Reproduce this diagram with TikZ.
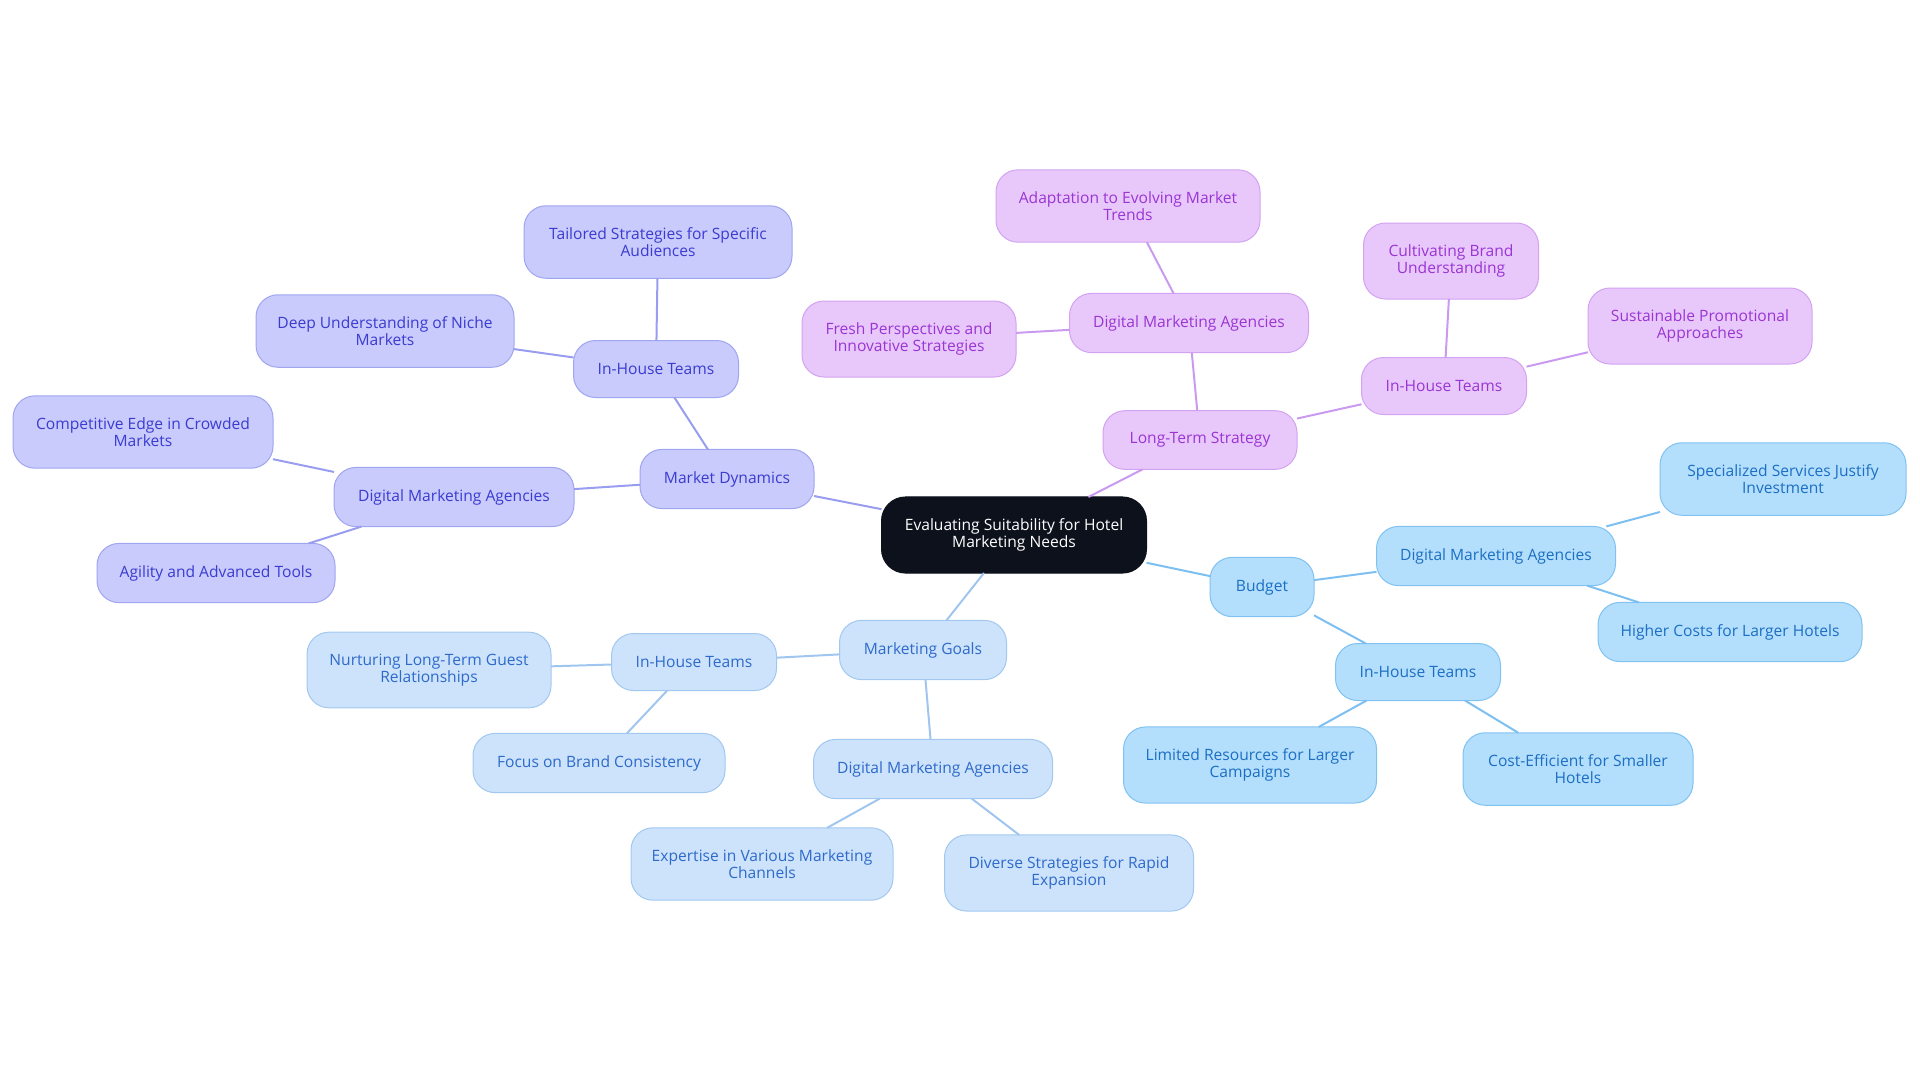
\documentclass[tikz,border=0pt]{standalone}
\usepackage{fontspec}
\setmainfont{Open Sans}
\usetikzlibrary{positioning}
\definecolor{rootfill}{HTML}{0C111B}
\definecolor{mdfill}{HTML}{C8CBFB}
\definecolor{mddraw}{HTML}{A0A5F0}
\definecolor{mdtext}{HTML}{3B3BD1}
\definecolor{mdedge}{HTML}{989DF0}
\definecolor{ltfill}{HTML}{E8C8FA}
\definecolor{ltdraw}{HTML}{D3A2F2}
\definecolor{lttext}{HTML}{9A35D4}
\definecolor{ltedge}{HTML}{C99AF0}
\definecolor{bgfill}{HTML}{B3DEFC}
\definecolor{bgdraw}{HTML}{80C2F2}
\definecolor{bgtext}{HTML}{1C6FC4}
\definecolor{bgedge}{HTML}{7CBFF0}
\definecolor{mgfill}{HTML}{CCE3FB}
\definecolor{mgdraw}{HTML}{A3C8F0}
\definecolor{mgtext}{HTML}{2E6ACB}
\definecolor{mgedge}{HTML}{A0C6F0}
\tikzset{
    %Define standard boxes
    idea/.style={
      rectangle,
      rounded corners=11pt,
      line width=0.5pt,
      outer sep=0pt,
      align=center,
      inner ysep=10.9pt,
      minimum height=28.5pt,
      font=\fontsize{7.8}{8.4}\selectfont},
    root/.style={
      idea,
      fill=rootfill, draw=rootfill,
      text=white,
      rounded corners=12pt,
      minimum height=37.5pt},
    mdbox/.style={idea, fill=mdfill, draw=mddraw, text=mdtext},
    ltbox/.style={idea, fill=ltfill, draw=ltdraw, text=lttext},
    bgbox/.style={idea, fill=bgfill, draw=bgdraw, text=bgtext},
    mgbox/.style={idea, fill=mgfill, draw=mgdraw, text=mgtext},
    mdline/.style={draw=mdedge, line width=1pt},
    ltline/.style={draw=ltedge, line width=1pt},
    bgline/.style={draw=bgedge, line width=1pt},
    mgline/.style={draw=mgedge, line width=1pt}
}
\begin{document}
\begin{tikzpicture}[x=0.5pt,y=-0.5pt]
    \useasboundingbox (0,0) rectangle (1920,1083);
    \node (root) [root, minimum width=132.5pt] at (1014,535)
          {Evaluating Suitability for Hotel\\Marketing Needs};
    % market dynamics
    \node (md) [mdbox, minimum width=87pt] at (727,479)
          {Market Dynamics}
          edge [mdline] (root);
    \node (mdih) [mdbox, minimum width=82.5pt] at (656,369)
          {In-House Teams}
          edge [mdline] (md);
    \node (mdtail) [mdbox, minimum width=134pt] at (658,242)
          {Tailored Strategies for Specific\\Audiences}
          edge [mdline] (mdih);
    \node (mddeep) [mdbox, minimum width=129pt] at (385,331)
          {Deep Understanding of Niche\\Markets}
          edge [mdline] (mdih);
    \node (mddma) [mdbox, minimum width=120pt] at (454,497)
          {Digital Marketing Agencies}
          edge [mdline] (md);
    \node (mdedge) [mdbox, minimum width=130pt] at (143,432)
          {Competitive Edge in Crowded\\Markets}
          edge [mdline] (mddma);
    \node (mdagil) [mdbox, minimum width=119pt] at (216,573)
          {Agility and Advanced Tools}
          edge [mdline] (mddma);
    % long-term strategy
    \node (lt) [ltbox, minimum width=97pt] at (1200,440)
          {Long-Term Strategy}
          edge [ltline] (root);
    \node (ltdma) [ltbox, minimum width=119.5pt] at (1189,323)
          {Digital Marketing Agencies}
          edge [ltline] (lt);
    \node (ltadapt) [ltbox, minimum width=132pt] at (1128,206)
          {Adaptation to Evolving Market\\Trends}
          edge [ltline] (ltdma);
    \node (ltfresh) [ltbox, minimum width=107pt] at (909,339)
          {Fresh Perspectives and\\Innovative Strategies}
          edge [ltline] (ltdma);
    \node (ltih) [ltbox, minimum width=82.5pt] at (1444,386)
          {In-House Teams}
          edge [ltline] (lt);
    \node (ltcult) [ltbox, minimum width=87.5pt] at (1451,261)
          {Cultivating Brand\\Understanding}
          edge [ltline] (ltih);
    \node (ltsust) [ltbox, minimum width=112pt] at (1700,326)
          {Sustainable Promotional\\Approaches}
          edge [ltline] (ltih);
    % budget
    \node (bg) [bgbox, minimum width=52pt] at (1262,587)
          {Budget}
          edge [bgline] (root);
    \node (bgdma) [bgbox, minimum width=119.5pt] at (1496,556)
          {Digital Marketing Agencies}
          edge [bgline] (bg);
    \node (bgspec) [bgbox, minimum width=123pt] at (1783,479)
          {Specialized Services Justify\\Investment}
          edge [bgline] (bgdma);
    \node (bghigh) [bgbox, minimum width=132pt] at (1730,632)
          {Higher Costs for Larger Hotels}
          edge [bgline] (bgdma);
    \node (bgih) [bgbox, minimum width=82.5pt] at (1418,672)
          {In-House Teams}
          edge [bgline] (bg);
    \node (bglim) [bgbox, minimum width=126.5pt] at (1250,765)
          {Limited Resources for Larger\\Campaigns}
          edge [bgline] (bgih);
    \node (bgcost) [bgbox, minimum width=115pt] at (1578,769)
          {Cost-Efficient for Smaller\\Hotels}
          edge [bgline] (bgih);
    % marketing goals
    \node (mg) [mgbox, minimum width=83.5pt] at (923,650)
          {Marketing Goals}
          edge [mgline] (root);
    \node (mgih) [mgbox, minimum width=82.5pt] at (694,662)
          {In-House Teams}
          edge [mgline] (mg);
    \node (mgnurt) [mgbox, minimum width=122pt] at (429,670)
          {Nurturing Long-Term Guest\\Relationships}
          edge [mgline] (mgih);
    \node (mgfocus) [mgbox, minimum width=126pt] at (599,763)
          {Focus on Brand Consistency}
          edge [mgline] (mgih);
    \node (mgdma) [mgbox, minimum width=119.5pt] at (933,769)
          {Digital Marketing Agencies}
          edge [mgline] (mg);
    \node (mgexp) [mgbox, minimum width=131pt] at (762,864)
          {Expertise in Various Marketing\\Channels}
          edge [mgline] (mgdma);
    \node (mgdiv) [mgbox, minimum width=124.5pt] at (1069,873)
          {Diverse Strategies for Rapid\\Expansion}
          edge [mgline] (mgdma);
\end{tikzpicture}
\end{document}
